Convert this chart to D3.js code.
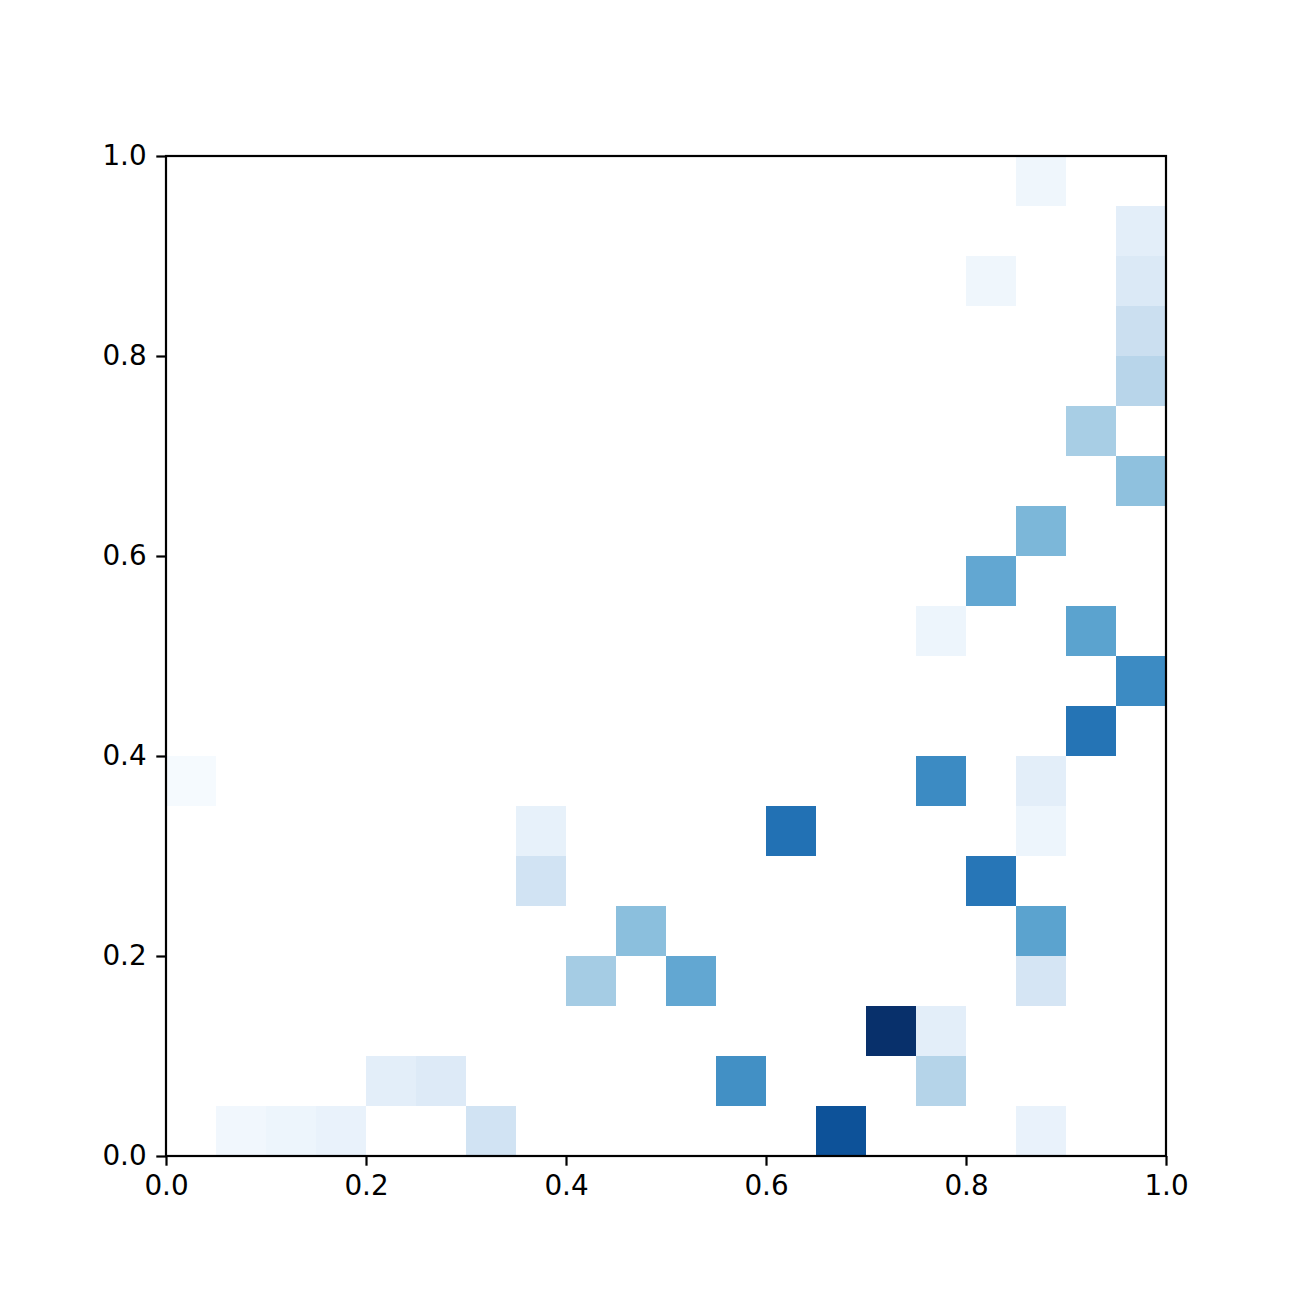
<!DOCTYPE html>
<html>
<head>
<meta charset="utf-8">
<title>2D histogram</title>
<style>
body { margin: 0; background: #fff; }
.tick text { font-family: 'DejaVu Sans', sans-serif; font-size: 27.8px; fill: #000; }
</style>
</head>
<body>
<svg width="1300" height="1300"></svg>
<script src="https://cdnjs.cloudflare.com/ajax/libs/d3/7.8.5/d3.min.js"></script>
<script>
// bin index (0..19) along x and y, and normalised count for each filled bin
var cellCol   = [17, 19, 16, 19, 19, 19, 18, 19, 17, 16, 15, 18, 19, 18, 0, 15, 17, 7, 12, 17, 7, 16, 9, 17, 8, 10, 17, 14, 15, 4, 5, 11, 15, 1, 2, 3, 6, 13, 17];
var cellRow   = [19, 18, 17, 17, 16, 15, 14, 13, 12, 11, 10, 10, 9, 8, 7, 7, 7, 6, 6, 6, 5, 5, 4, 4, 3, 3, 3, 2, 2, 1, 1, 1, 1, 0, 0, 0, 0, 0, 0];
var cellValue = [0.04, 0.10, 0.04, 0.14, 0.22, 0.29, 0.34, 0.41, 0.46, 0.53, 0.05, 0.55, 0.65, 0.74, 0.01, 0.65, 0.10, 0.08, 0.75, 0.05, 0.19, 0.73, 0.42, 0.55, 0.35, 0.53, 0.17, 1.0, 0.10, 0.10, 0.13, 0.63, 0.30, 0.03, 0.05, 0.07, 0.19, 0.87, 0.07];
var nBins = 20;
var tickValues = [0.0, 0.2, 0.4, 0.6, 0.8, 1.0];

var svg = d3.select("svg");
var mLeft = 166, mTop = 156, size = 1000;

var x = d3.scaleLinear().domain([0, 1]).range([mLeft, mLeft + size]);
var y = d3.scaleLinear().domain([0, 1]).range([mTop + size, mTop]);
var color = d3.scaleSequential(d3.interpolateBlues).domain([0, 1]);
var binW = 1 / nBins;

var cells = cellCol.map(function(c, i) { return {c: c, r: cellRow[i], v: cellValue[i]}; });

svg.append("g")
  .selectAll("rect")
  .data(cells)
  .enter().append("rect")
  .attr("x", function(d) { return x(d.c * binW); })
  .attr("y", function(d) { return y((d.r + 1) * binW); })
  .attr("width", x(binW) - x(0))
  .attr("height", y(0) - y(binW))
  .attr("fill", function(d) { return color(d.v); })
  .attr("shape-rendering", "crispEdges");

// frame
svg.append("rect")
  .attr("x", mLeft).attr("y", mTop)
  .attr("width", size).attr("height", size)
  .attr("fill", "none").attr("stroke", "#000").attr("stroke-width", 2.2);

var fmt = d3.format(".1f");
var xAxis = svg.append("g")
  .attr("transform", "translate(0," + (mTop + size) + ")")
  .call(d3.axisBottom(x).tickValues(tickValues).tickFormat(fmt).tickSizeInner(9.7).tickSizeOuter(0).tickPadding(9.7));
var yAxis = svg.append("g")
  .attr("transform", "translate(" + mLeft + ",0)")
  .call(d3.axisLeft(y).tickValues(tickValues).tickFormat(fmt).tickSizeInner(9.7).tickSizeOuter(0).tickPadding(9.7));

[xAxis, yAxis].forEach(function(a) {
  a.select(".domain").remove();
  a.attr("font-size", null).attr("font-family", null);
  a.selectAll(".tick line").attr("stroke", "#000").attr("stroke-width", 2.2);
});
</script>
</body>
</html>
